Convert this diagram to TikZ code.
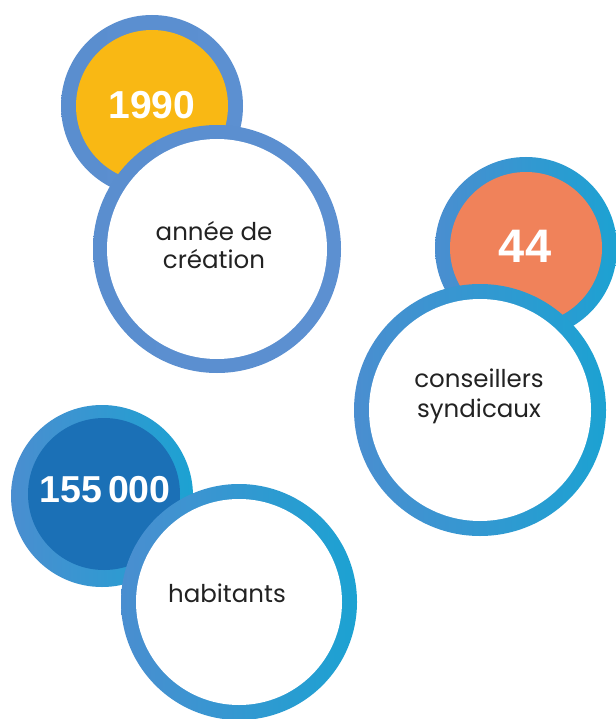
\documentclass[tikz,border=0pt]{standalone}
\usepackage{fontspec}
\setmainfont{Poppins}
\newfontfamily\numfont{Liberation Sans}
\definecolor{ringA}{HTML}{5A8ECF}
\definecolor{ringB}{HTML}{5C90D1}
\definecolor{ringL}{HTML}{4A8ED0}
\definecolor{ringR}{HTML}{1CA2D2}
\definecolor{yel}{HTML}{F9B814}
\definecolor{ora}{HTML}{F0825A}
\definecolor{dblue}{HTML}{1B70B6}
\definecolor{txt}{HTML}{222222}
\begin{document}
\begin{tikzpicture}[x=1pt,y=-1pt,
  outerbig/.style={circle,inner sep=0pt,minimum size=#1},
  numdisk/.style={circle,inner sep=0pt,minimum size=152pt},
  numtext/.style={text=white,font=\numfont\bfseries\fontsize{#1}{#1}\selectfont},
  labdisk/.style={circle,inner sep=0pt,fill=white},
  labtext/.style={align=center,text=txt,font=\fontsize{24.5}{#1}\selectfont},
]
\useasboundingbox (0,0) rectangle (615,719);
\fill[white] (0,0) rectangle (615,719);
% group 1
\node (r1a) [outerbig=182pt,left color=ringA,right color=ringB] at (152,106) {};
\node (n1) [numdisk,fill=yel] at (152,106) {};
\node (t1) [numtext=39] at (152,105) {1990};
\node (r1b) [outerbig=248pt,left color=ringA,right color=ringB] at (217,249) {};
\node (w1) [labdisk,minimum size=220pt] at (217,249) {};
\node (l1) [labtext=27.5] at (214,245) {année de\\création};
% group 2
\node (r2a) [outerbig=182pt,left color=ringL,right color=ringR] at (526,248) {};
\node (n2) [numdisk,fill=ora] at (526,248) {};
\node (t2) [numtext=47] at (525,246) {44};
\node (r2b) [outerbig=252pt,left color=ringL,right color=ringR] at (480,410) {};
\node (w2) [labdisk,minimum size=222pt] at (480,410) {};
\node (l2) [labtext=30] at (479,396) {conseillers\\syndicaux};
% group 3
\node (r3a) [outerbig=182pt,left color=ringL,right color=ringR] at (102,496) {};
\node (n3) [numdisk,fill=dblue] at (104,494) {};
\node (t3) [numtext=37.5] at (105,490) {155\,000};
\node (r3b) [outerbig=236pt,left color=ringL,right color=ringR] at (239,602) {};
\node (w3) [labdisk,minimum size=206pt] at (239,602) {};
\node (l3) [labtext=27] at (227,593) {habitants};
\end{tikzpicture}
\end{document}
